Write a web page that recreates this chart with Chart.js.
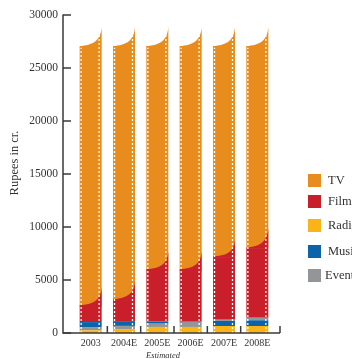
<!DOCTYPE html>
<html>
<head>
<meta charset="utf-8">
<script src="https://cdn.jsdelivr.net/npm/chart.js@4.4.0/dist/chart.umd.min.js"></script>
<style>
  html, body { margin: 0; padding: 0; background: #fff; overflow: hidden; }
  #wrap { position: relative; width: 352px; height: 359px; }
</style>
</head>
<body>
<div id="wrap"><canvas id="mediaChart" width="352" height="359"></canvas></div>
<script>
// Data (values at the left edge of each strip)
var years = ['2003', '2004E', '2005E', '2006E', '2007E', '2008E'];
var radio = [250, 320, 570, 570, 660, 660];
var events = [310, 350, 310, 470, 130, 250];
var music = [470, 380, 220, 60, 470, 540];
var films = [1520, 2060, 4840, 4840, 5880, 6540];
var tv = [24450, 23890, 21060, 21060, 19860, 19010];
// in 2007E and 2008E the Events slice sits above Music
var eventsOnTop = [false, false, false, false, true, true];
// how far each strip's top edge curls up at its right side
var filmsCurl = [1720, 1790, 1730, 1730, 1630, 1940];
var tvCurl = [1900, 1900, 1900, 1900, 1900, 1900];
var yTicks = [0, 5000, 10000, 15000, 20000, 25000, 30000];

var legendNames = ['TV', 'Films', 'Radio', 'Music', 'Events'];
var colors = {
  TV: '#e98c1e',
  Films: '#c81f2a',
  Radio: '#fbb417',
  Music: '#0b64a9',
  Events: '#939598'
};
var serif = '"Liberation Serif", "DejaVu Serif", serif';

var eventsLow = events.map((v, i) => eventsOnTop[i] ? 0 : v);
var eventsHigh = events.map((v, i) => eventsOnTop[i] ? v : 0);

function sumAt(arrs, i) {
  return arrs.reduce((s, a) => s + a[i], 0);
}

function curlPath(ctx, xl, xr, yL, yR) {
  var w = xr - xl, h = yL - yR;
  ctx.beginPath();
  ctx.moveTo(xl, yL + 0.5);
  ctx.lineTo(xl, yL - 0.8);
  ctx.bezierCurveTo(xl + 0.6 * w, yL - 0.08 * h, xr - 0.04 * w, yL - 0.3 * h, xr, yR);
  ctx.lineTo(xr, yL + 0.5);
  ctx.closePath();
}

var filmStrip = {
  id: 'filmStrip',
  afterDatasetsDraw(chart) {
    var ctx = chart.ctx;
    var y = chart.scales.y;
    var tvMeta = chart.getDatasetMeta(5);
    ctx.save();
    years.forEach((yr, i) => {
      var bar = tvMeta.data[i];
      var xl = bar.x - bar.width / 2;
      var xr = bar.x + bar.width / 2;
      var filmsTop = sumAt([radio, events, music, films], i);
      var tvTop = filmsTop + tv[i];

      // red curl into the orange
      ctx.fillStyle = colors.Films;
      curlPath(ctx, xl, xr, y.getPixelForValue(filmsTop), y.getPixelForValue(filmsTop + filmsCurl[i]));
      ctx.fill();
      // orange curl on top
      ctx.fillStyle = colors.TV;
      curlPath(ctx, xl, xr, y.getPixelForValue(tvTop), y.getPixelForValue(tvTop + tvCurl[i]));
      ctx.fill();

      // sprocket holes
      var base = y.getPixelForValue(0);
      ctx.strokeStyle = '#ffffff';
      ctx.lineWidth = 1.3;
      ctx.setLineDash([2, 2]);
      ctx.beginPath();
      ctx.moveTo(xl + 1.5, base);
      ctx.lineTo(xl + 1.5, y.getPixelForValue(tvTop) + 1);
      ctx.moveTo(xr - 2.5, base);
      ctx.lineTo(xr - 2.5, y.getPixelForValue(tvTop + tvCurl[i]) + 3);
      ctx.stroke();
      ctx.setLineDash([]);
    });
    ctx.restore();
  },
  afterDraw(chart) {
    var ctx = chart.ctx;
    var x = chart.scales.x;
    var y = chart.scales.y;
    var area = chart.chartArea;
    var axisX = 63;
    var axisEnd = area.right + 6;
    ctx.save();
    ctx.strokeStyle = '#3a3a3a';
    ctx.lineWidth = 1.5;
    // axis lines
    ctx.beginPath();
    ctx.moveTo(axisX, y.getPixelForValue(30000) - 0.5);
    ctx.lineTo(axisX, area.bottom);
    ctx.lineTo(axisEnd, area.bottom);
    ctx.stroke();
    // y ticks point inwards
    ctx.beginPath();
    yTicks.forEach(v => {
      var py = y.getPixelForValue(v);
      ctx.moveTo(axisX, py);
      ctx.lineTo(axisX + 8, py);
    });
    // x ticks between categories and at the end
    for (var i = 1; i < years.length; i++) {
      var px = (x.getPixelForValue(i - 1) + x.getPixelForValue(i)) / 2;
      ctx.moveTo(px, area.bottom);
      ctx.lineTo(px, area.bottom - 7);
    }
    ctx.moveTo(axisEnd, area.bottom);
    ctx.lineTo(axisEnd, area.bottom - 7);
    ctx.stroke();

    // y tick labels, right aligned left of the axis line
    ctx.fillStyle = '#333';
    ctx.font = '11.5px ' + serif;
    ctx.textAlign = 'right';
    ctx.textBaseline = 'middle';
    yTicks.forEach(v => {
      ctx.fillText(String(v), axisX - 5, y.getPixelForValue(v));
    });

    // axis titles
    ctx.font = '12.5px ' + serif;
    ctx.textAlign = 'center';
    ctx.save();
    ctx.translate(15, 163);
    ctx.rotate(-Math.PI / 2);
    ctx.fillText('Rupees in cr.', 0, 0);
    ctx.restore();
    ctx.font = 'italic 8.5px ' + serif;
    ctx.fillText('Estimated', 163, 356);

    // legend
    var legendY = [174, 195, 219, 245, 269];
    ctx.font = '12.5px ' + serif;
    ctx.textAlign = 'left';
    legendNames.forEach((name, k) => {
      ctx.fillStyle = colors[name];
      ctx.fillRect(308, legendY[k], 13, 13);
      ctx.fillStyle = '#333';
      ctx.fillText(name, name === 'Events' ? 325 : 328, legendY[k] + 6.5);
    });
    ctx.restore();
  }
};

var ctx = document.getElementById('mediaChart').getContext('2d');
var chart = new Chart(ctx, {
  type: 'bar',
  data: {
    labels: years,
    datasets: [
      { label: 'Radio', data: radio, backgroundColor: colors.Radio },
      { label: 'Events', data: eventsLow, backgroundColor: colors.Events },
      { label: 'Music', data: music, backgroundColor: colors.Music },
      { label: 'Events', data: eventsHigh, backgroundColor: colors.Events },
      { label: 'Films', data: films, backgroundColor: colors.Films },
      { label: 'TV', data: tv, backgroundColor: colors.TV }
    ]
  },
  options: {
    responsive: false,
    animation: false,
    events: [],
    layout: { padding: { top: 15, right: 78, left: 0, bottom: 0 } },
    datasets: {
      bar: { categoryPercentage: 1, barPercentage: 0.66, borderWidth: 0 }
    },
    plugins: {
      legend: { display: false },
      tooltip: { enabled: false }
    },
    scales: {
      x: {
        stacked: true,
        grid: { display: false, drawTicks: false },
        border: { display: false },
        ticks: {
          padding: 4,
          color: '#333',
          font: { family: serif, size: 10 }
        },
        afterFit(scale) { scale.height = 26; }
      },
      y: {
        stacked: true,
        min: 0,
        max: 30000,
        grid: { display: false, drawTicks: false },
        border: { display: false },
        ticks: { display: false, stepSize: 5000 },
        afterFit(scale) { scale.width = 74; }
      }
    }
  },
  plugins: [filmStrip]
});
</script>
</body>
</html>
